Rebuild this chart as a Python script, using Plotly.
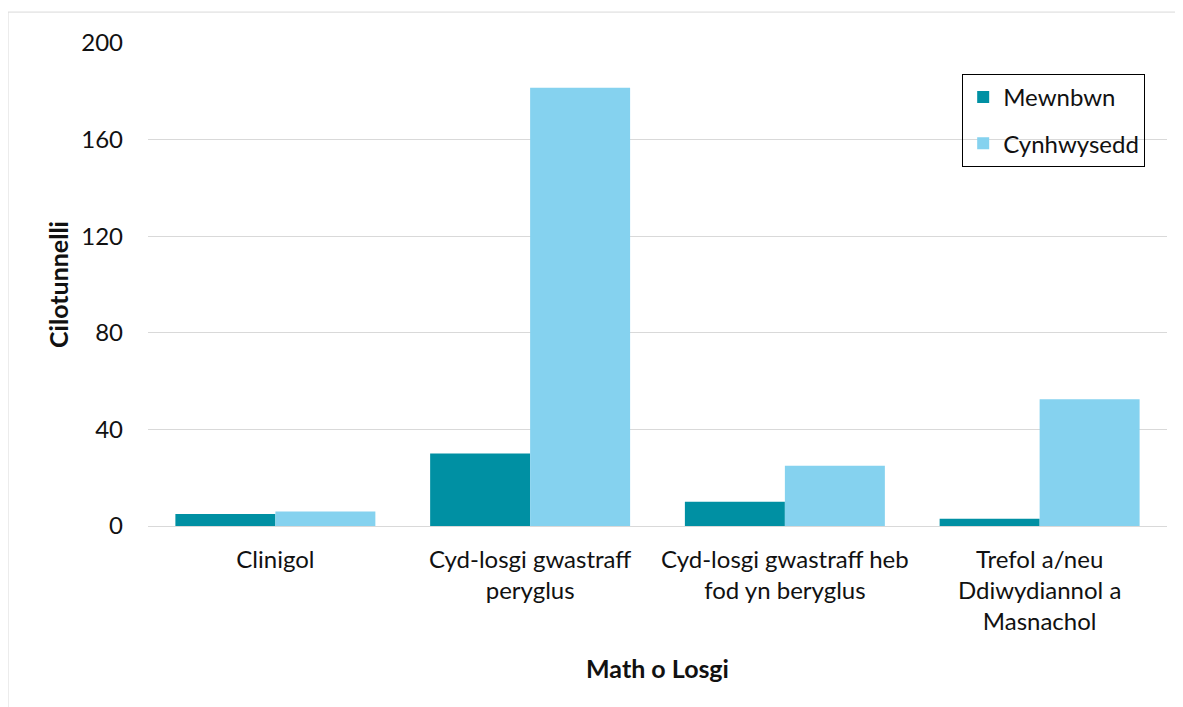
import plotly.graph_objects as go

categories = ["Clinigol", "Cyd-losgi gwastraff<br>peryglus", "Cyd-losgi gwastraff heb<br>fod yn beryglus",
              "Trefol a/neu<br>Ddiwydiannol a<br>Masnachol"]
mewnbwn = [5, 30, 10, 3]
cynhwysedd = [6, 181.5, 25, 52.5]
y_ticks = [0, 40, 80, 120, 160, 200]

FONT = "Lato"

fig = go.Figure()
fig.add_trace(go.Bar(x=categories, y=mewnbwn, name="Mewnbwn", marker_color="#0090A3",
                     marker_line_width=0, legendgroup="a"))
fig.add_trace(go.Bar(x=categories, y=cynhwysedd, name="Cynhwysedd", marker_color="#85D2EF",
                     marker_line_width=0, legendgroup="b"))

fig.update_layout(
    width=1183, height=707,
    margin=dict(l=140, r=24, t=35, b=189),
    paper_bgcolor="white", plot_bgcolor="white",
    font=dict(family=FONT, size=24, color="#111111"),
    barmode="group", bargap=0.215, bargroupgap=0,
    showlegend=True,
    legend=dict(x=0.799, y=0.936, xanchor="left", yanchor="top",
                bordercolor="#000000", borderwidth=1, bgcolor="rgba(255,255,255,0)",
                font=dict(size=24), traceorder="grouped", tracegroupgap=12,
                itemwidth=30),
    xaxis=dict(showgrid=False, showline=False, ticks="", tickfont=dict(size=24), ticklabelstandoff=17,
               title=dict(text="<b>Math o Losgi</b>", font=dict(size=25), standoff=26)),
    yaxis=dict(range=[0, 200], tickvals=y_ticks, showgrid=True, gridcolor="#D9D9D9", gridwidth=1,
               zeroline=True, zerolinecolor="#D9D9D9", zerolinewidth=1,
               showline=False, ticks="", tickfont=dict(size=24), ticklabelstandoff=24,
               title=dict(text="<b>Cilotunnelli</b>", font=dict(size=25), standoff=5)),
    shapes=[dict(type="rect", xref="paper", yref="paper", x0=-0.1374, x1=1.05, y0=-0.5, y1=1.064,
                 line=dict(color="#D9D9D9", width=1), fillcolor="rgba(0,0,0,0)", layer="below")],
)

fig.write_html("out.html")
